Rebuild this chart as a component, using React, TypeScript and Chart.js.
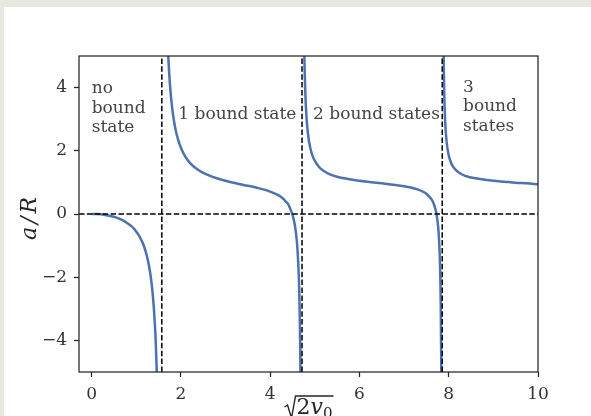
import { useEffect, useRef } from 'react';
import { Chart, registerables } from 'chart.js';

Chart.register(...registerables);

// Scattering length a/R against sqrt(2 v0), one array pair per branch between poles
const branch1X = [0, 0.1, 0.2, 0.3, 0.4, 0.5, 0.6, 0.7, 0.8, 0.9, 0.95, 1.0, 1.05, 1.1, 1.15, 1.2, 1.25, 1.3, 1.325, 1.35, 1.375, 1.4, 1.415, 1.43, 1.44, 1.45, 1.46];
const branch1Y = [0, -0.003, -0.01, -0.03, -0.06, -0.09, -0.14, -0.2, -0.29, -0.4, -0.47, -0.56, -0.66, -0.79, -0.94, -1.14, -1.41, -1.77, -2.01, -2.3, -2.67, -3.14, -3.5, -3.89, -4.28, -4.68, -5.15];

const branch2X = [1.7, 1.72, 1.75, 1.8, 1.85, 1.9, 1.95, 2.0, 2.1, 2.2, 2.35, 2.5, 2.8, 3.1, 3.4, 3.7, 4.0, 4.2, 4.25, 4.3, 4.35, 4.4, 4.45, 4.5, 4.525, 4.55, 4.575, 4.6, 4.615, 4.63, 4.64, 4.65, 4.66, 4.67, 4.675, 4.68];
const branch2Y = [5.53, 4.87, 4.16, 3.38, 2.89, 2.54, 2.29, 2.09, 1.81, 1.62, 1.43, 1.3, 1.13, 1.01, 0.92, 0.83, 0.71, 0.58, 0.53, 0.47, 0.39, 0.32, 0.16, -0.03, -0.17, -0.34, -0.58, -0.93, -1.22, -1.62, -1.97, -2.44, -3.09, -4.05, -4.72, -5.59];

const branch3X = [4.76, 4.77, 4.8, 4.85, 4.9, 4.95, 5.0, 5.1, 5.2, 5.3, 5.5, 6.0, 6.5, 6.8, 7.0, 7.15, 7.3, 7.4, 7.5, 7.6, 7.65, 7.7, 7.725, 7.75, 7.775, 7.8, 7.81, 7.82, 7.83, 7.835];
const branch3Y = [5.41, 4.64, 3.37, 2.49, 2.08, 1.83, 1.68, 1.48, 1.36, 1.28, 1.18, 1.05, 0.97, 0.92, 0.88, 0.84, 0.78, 0.72, 0.64, 0.49, 0.37, 0.16, 0.0, -0.24, -0.62, -1.37, -1.91, -2.76, -4.32, -5.72];

const branch4X = [7.88, 7.89, 7.9, 7.92, 7.95, 8.0, 8.05, 8.1, 8.2, 8.3, 8.45, 8.6, 9.0, 9.25, 9.5, 9.75, 10.0];
const branch4Y = [5.88, 4.52, 3.75, 2.91, 2.31, 1.85, 1.63, 1.49, 1.34, 1.25, 1.17, 1.13, 1.05, 1.02, 0.99, 0.97, 0.94];

// Poles of a/R where a new bound state appears
const poleX = [1.5708, 4.7124, 7.854];

const xTicks = [0, 2, 4, 6, 8, 10];
const yTicks = [-4, -2, 0, 2, 4];

const X_MIN = -0.285;
const X_MAX = 10;
const Y_MIN = -5;
const Y_MAX = 5;

// Region labels: anchor of the first line (data coordinates) and their lines
const noteX = [0.0, 1.94, 4.96, 8.32];
const noteY = [3.82, 3.01, 3.01, 3.86];
const noteLines = [['no', 'bound', 'state'], ['1 bound state'], ['2 bound states'], ['3', 'bound', 'states']];

const SERIF = '"DejaVu Serif", serif';
const INK = '#262626';

const fmt = (v: number) => (v < 0 ? '\u2212' + Math.abs(v) : String(v));

const toPoints = (xs: number[], ys: number[]) => xs.map((x, i) => ({ x, y: ys[i] }));

const curve = (xs: number[], ys: number[]) => ({
  data: toPoints(xs, ys),
  showLine: true,
  borderColor: '#4c72b0',
  borderWidth: 2.5,
  pointRadius: 0,
  cubicInterpolationMode: 'monotone' as const,
  clip: 0,
  order: 2,
});

const dashed = (pts: { x: number; y: number }[]) => ({
  data: pts,
  showLine: true,
  borderColor: '#000000',
  borderWidth: 1.5,
  borderDash: [5.5, 2.4],
  pointRadius: 0,
  clip: 0,
  order: 0,
});

const decorations = {
  id: 'decorations',
  afterDatasetsDraw(chart: any) {
    const { ctx, chartArea: a, scales } = chart;
    const xs = scales.x;
    const ys = scales.y;
    ctx.save();

    // frame on all four sides
    ctx.strokeStyle = INK;
    ctx.lineWidth = 1.25;
    ctx.setLineDash([]);
    ctx.strokeRect(a.left, a.top, a.right - a.left, a.bottom - a.top);

    // region labels
    ctx.font = `17px ${SERIF}`;
    ctx.fillStyle = '#444444';
    ctx.textAlign = 'left';
    ctx.textBaseline = 'alphabetic';
    noteLines.forEach((lines, i) => {
      const px = xs.getPixelForValue(noteX[i]);
      const py = ys.getPixelForValue(noteY[i]);
      lines.forEach((line, j) => ctx.fillText(line, px, py + j * 19.4));
    });

    // y axis title: a/R
    ctx.save();
    ctx.translate(a.left - 49, (a.top + a.bottom) / 2 + 3);
    ctx.rotate(-Math.PI / 2);
    ctx.font = `italic 22px ${SERIF}`;
    ctx.fillStyle = INK;
    ctx.textAlign = 'center';
    ctx.textBaseline = 'middle';
    (ctx as any).letterSpacing = '3px';
    ctx.fillText('a/R', 0, 0);
    ctx.restore();

    // x axis title: sqrt(2 v0)
    const cx = (a.left + a.right) / 2;
    const base = a.bottom + 42;
    ctx.font = `22px ${SERIF}`;
    ctx.fillStyle = INK;
    const w2 = ctx.measureText('2').width;
    ctx.font = `italic 22px ${SERIF}`;
    const wv = ctx.measureText('v').width;
    ctx.font = `15px ${SERIF}`;
    const w0 = ctx.measureText('0').width;
    const rad = 12;
    const total = rad + w2 + wv + w0;
    let x0 = cx - total / 2;
    const top = base - 18;
    ctx.strokeStyle = INK;
    ctx.lineWidth = 1.4;
    ctx.beginPath();
    ctx.moveTo(x0, base - 7);
    ctx.lineTo(x0 + 3, base - 9);
    ctx.lineTo(x0 + 7, base + 4);
    ctx.lineTo(x0 + rad - 1, top);
    ctx.lineTo(x0 + total + 1, top);
    ctx.stroke();
    x0 += rad;
    ctx.textAlign = 'left';
    ctx.textBaseline = 'alphabetic';
    ctx.font = `22px ${SERIF}`;
    ctx.fillText('2', x0, base);
    x0 += w2;
    ctx.font = `italic 22px ${SERIF}`;
    ctx.fillText('v', x0, base);
    x0 += wv;
    ctx.font = `15px ${SERIF}`;
    ctx.fillText('0', x0, base + 4);

    ctx.restore();
  },
};

export default function App() {
  const ref = useRef<HTMLCanvasElement>(null);

  useEffect(() => {
    if (!ref.current) return;
    const tickFont = { family: SERIF, size: 17 };
    const grid = {
      drawOnChartArea: false,
      drawTicks: true,
      tickLength: 5,
      tickColor: INK,
      tickWidth: 1.25,
    };
    const chart = new Chart(ref.current, {
      type: 'scatter',
      data: {
        datasets: [
          curve(branch1X, branch1Y),
          curve(branch2X, branch2Y),
          curve(branch3X, branch3Y),
          curve(branch4X, branch4Y),
          ...poleX.map((p) => dashed([{ x: p, y: Y_MIN }, { x: p, y: Y_MAX }])),
          dashed([{ x: X_MIN, y: 0 }, { x: X_MAX, y: 0 }]),
        ] as any,
      },
      options: {
        responsive: false,
        animation: false,
        events: [],
        layout: { padding: { top: 49, right: 53, left: 0, bottom: 0 } },
        plugins: {
          legend: { display: false },
          tooltip: { enabled: false },
        },
        scales: {
          x: {
            type: 'linear',
            min: X_MIN,
            max: X_MAX,
            afterBuildTicks: (s: any) => {
              s.ticks = xTicks.map((v) => ({ value: v }));
            },
            afterFit: (s: any) => {
              s.height = 44;
            },
            grid,
            border: { display: false },
            ticks: {
              font: tickFont,
              color: '#333333',
              padding: 7,
              maxRotation: 0,
              autoSkip: false,
              callback: (v: any) => fmt(Number(v)),
            },
          },
          y: {
            type: 'linear',
            min: Y_MIN,
            max: Y_MAX,
            afterBuildTicks: (s: any) => {
              s.ticks = yTicks.map((v) => ({ value: v }));
            },
            afterFit: (s: any) => {
              s.width = 75;
            },
            grid,
            border: { display: false },
            ticks: {
              font: tickFont,
              color: '#333333',
              padding: 7,
              autoSkip: false,
              callback: (v: any) => fmt(Number(v)),
            },
          },
        },
      },
      plugins: [decorations],
    });
    return () => chart.destroy();
  }, []);

  return (
    <div
      style={{
        position: 'absolute',
        left: 0,
        top: 0,
        width: 591,
        height: 416,
        background: '#e8e8e0',
        overflow: 'hidden',
      }}
    >
      <div style={{ position: 'absolute', left: 4, top: 7, width: 587, height: 409, background: '#ffffff' }}>
        <canvas ref={ref} width={587} height={409} style={{ display: 'block' }} />
      </div>
    </div>
  );
}
